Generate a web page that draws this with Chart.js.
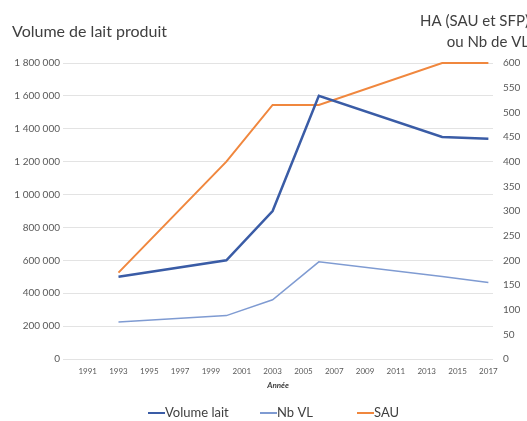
<!DOCTYPE html>
<html>
<head>
<meta charset="utf-8">
<script src="https://cdn.jsdelivr.net/npm/chart.js@4"></script>
<style>
  html, body { margin: 0; padding: 0; background: #fff; }
  #wrap { width: 527px; height: 421px; position: relative; }
</style>
</head>
<body>
<div id="wrap"><canvas id="laitChart" width="527" height="421"></canvas></div>
<script>
// Data
const years = [1993, 2000, 2003, 2006, 2014, 2017];
const volumeLait = [500000, 600000, 900000, 1600000, 1350000, 1340000];
const nbVL = [75, 88, 120, 197, 167, 155];
const sau = [175, 400, 515, 515, 600, 600];
const xTicks = [1991, 1993, 1995, 1997, 1999, 2001, 2003, 2005, 2007, 2009, 2011, 2013, 2015, 2017];

const FONT = "Lato, 'Liberation Sans', sans-serif";
const TEXT = '#595959';
const legendX = [148, 260, 357]; // where each legend entry starts

function toPoints(values) {
    return values.map((v, i) => ({ x: years[i], y: v }));
}

function formatFr(v) {
    return String(v).replace(/\B(?=(\d{3})+(?!\d))/g, ' ');
}

// axis titles and the legend row, drawn flat like in Excel
const excelTexts = {
    id: 'excelTexts',
    afterDraw(chart) {
        const ctx = chart.ctx;
        ctx.save();
        ctx.fillStyle = '#404040';
        ctx.textBaseline = 'middle';
        ctx.font = '16px ' + FONT;
        ctx.textAlign = 'left';
        ctx.fillText('Volume de lait produit', 12, 32);
        ctx.font = '15px ' + FONT;
        ctx.textAlign = 'right';
        ctx.fillText('HA (SAU et SFP)', 529, 21);
        ctx.fillText('ou Nb de VL', 529, 42);

        ctx.font = '13px ' + FONT;
        ctx.textAlign = 'left';
        chart.data.datasets.forEach((ds, i) => {
            const x = legendX[i];
            ctx.strokeStyle = ds.borderColor;
            ctx.lineWidth = 2;
            ctx.beginPath();
            ctx.moveTo(x, 413);
            ctx.lineTo(x + 17, 413);
            ctx.stroke();
            ctx.fillStyle = '#404040';
            ctx.fillText(ds.label, x + 17, 413);
        });
        ctx.restore();
    }
};

const ctx = document.getElementById('laitChart').getContext('2d');
new Chart(ctx, {
    type: 'line',
    data: {
        datasets: [
            {
                label: 'Volume lait',
                data: toPoints(volumeLait),
                yAxisID: 'y',
                borderColor: '#3a5ca6',
                borderWidth: 2.5,
                pointRadius: 0,
                tension: 0
            },
            {
                label: 'Nb VL',
                data: toPoints(nbVL),
                yAxisID: 'y1',
                borderColor: '#7f9bd2',
                borderWidth: 1.5,
                pointRadius: 0,
                tension: 0
            },
            {
                label: 'SAU',
                data: toPoints(sau),
                yAxisID: 'y1',
                borderColor: '#f0873e',
                borderWidth: 2,
                pointRadius: 0,
                tension: 0,
                clip: 4
            }
        ]
    },
    options: {
        responsive: false,
        animation: false,
        layout: { padding: { top: 63, left: 0, right: 0, bottom: 29 } },
        plugins: {
            legend: { display: false },
            tooltip: { enabled: false }
        },
        scales: {
            x: {
                type: 'linear',
                min: 1989.4,
                max: 2017.3,
                afterBuildTicks: axis => { axis.ticks = xTicks.map(v => ({ value: v })); },
                afterFit: s => { s.height = 33; },
                grid: { display: false, drawTicks: false },
                border: { display: false },
                ticks: {
                    autoSkip: false,
                    maxRotation: 0,
                    padding: 8,
                    color: TEXT,
                    font: { family: FONT, size: 8 },
                    callback: v => String(v)
                },
                title: {
                    display: true,
                    text: 'Année',
                    color: '#404040',
                    padding: { top: 0, bottom: 2 },
                    font: { family: FONT, size: 8, weight: 'bold', style: 'italic' }
                }
            },
            y: {
                position: 'left',
                min: 0,
                max: 1800000,
                afterFit: s => { s.width = 63; },
                grid: { color: '#e3e3e3', drawTicks: false },
                border: { display: false },
                ticks: {
                    stepSize: 200000,
                    padding: 3,
                    color: TEXT,
                    font: { family: FONT, size: 10 },
                    callback: v => formatFr(v)
                }
            },
            y1: {
                position: 'right',
                min: 0,
                max: 600,
                afterFit: s => { s.width = 34; },
                grid: { display: false, drawTicks: false },
                border: { display: false },
                ticks: {
                    stepSize: 50,
                    padding: 10,
                    color: TEXT,
                    font: { family: FONT, size: 10 }
                }
            }
        }
    },
    plugins: [excelTexts]
});
</script>
</body>
</html>
